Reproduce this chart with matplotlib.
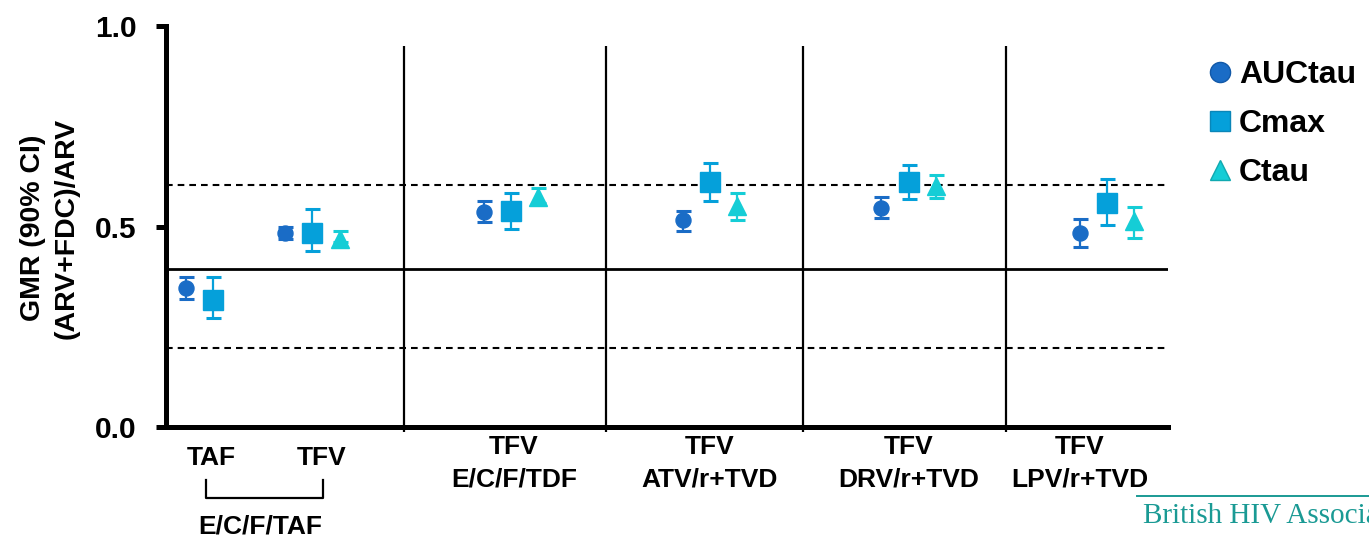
import numpy as np
import matplotlib
matplotlib.use("Agg")
import matplotlib.pyplot as plt
from matplotlib.lines import Line2D

plt.rcParams['font.family'] = ['Liberation Sans', 'DejaVu Sans']
plt.rcParams['font.weight'] = 'bold'

# group positions (TAF and TFV of E/C/F/TAF sit close together)
group_x = [0.0, 0.5, 1.5, 2.5, 3.5, 4.5]
label_x = [-0.007, 0.544, 1.515, 2.50, 3.50, 4.363]
group_labels = ["TAF", "TFV", "TFV\nE/C/F/TDF", "TFV\nATV/r+TVD",
                "TFV\nDRV/r+TVD", "TFV\nLPV/r+TVD"]
separators = [0.96, 1.98, 2.97, 3.99]

# geometric mean ratios with 90% CI
auc = [0.346, 0.483, 0.537, 0.516, 0.547, 0.483]
auc_lo = [0.319, 0.468, 0.510, 0.490, 0.520, 0.448]
auc_hi = [0.373, 0.498, 0.564, 0.539, 0.574, 0.519]

cmax = [0.317, 0.485, 0.539, 0.612, 0.612, 0.559]
cmax_lo = [0.271, 0.439, 0.493, 0.564, 0.568, 0.504]
cmax_hi = [0.375, 0.543, 0.583, 0.659, 0.653, 0.618]

ctau = [np.nan, 0.470, 0.573, 0.550, 0.601, 0.513]
ctau_lo = [np.nan, 0.462, 0.558, 0.516, 0.572, 0.471]
ctau_hi = [np.nan, 0.490, 0.595, 0.583, 0.628, 0.548]

ref_level = 0.395
bounds = [0.198, 0.603]

series = [
    ("AUCtau", auc, auc_lo, auc_hi, 'o', 10.8, -0.137, '#1a6cc6', '#1259a8'),
    ("Cmax", cmax, cmax_lo, cmax_hi, 's', 14.0, 0.0, '#05a0da', '#0a86b8'),
    ("Ctau", ctau, ctau_lo, ctau_hi, '^', 13.0, 0.137, '#15cdd6', '#10a9b0'),
]

fig = plt.figure(figsize=(13.69, 5.36), dpi=100)
ax = fig.add_axes([166 / 1369, 109 / 536, 1002 / 1369, 401 / 536])

ax.axhline(ref_level, color='black', lw=2.0, zorder=1)
for b in bounds:
    ax.axhline(b, color='black', lw=1.5, linestyle=(0, (3.2, 2.4)), zorder=1)
ax.vlines(separators, -0.012, 0.95, color='black', lw=1.6, clip_on=False, zorder=1)

handles = []
for name, vals, lo, hi, mk, ms, off, col, edge in series:
    vals = np.array(vals)
    err = [vals - np.array(lo), np.array(hi) - vals]
    xs = np.array(group_x) + off
    ax.errorbar(xs, vals, yerr=err, fmt=mk, ms=ms, color=col, mec=col,
                ecolor=col, elinewidth=1.6, capsize=5.4, capthick=2.2, zorder=3)
    handles.append(Line2D([], [], marker=mk, ls='', ms=14.5, mfc=col,
                          mec=edge, mew=1.0, label=name))

ax.set_xlim(-0.237, 4.806)
ax.set_ylim(0, 1.0)
ax.set_yticks([0.0, 0.5, 1.0])
ax.set_yticklabels(['0.0', '0.5', '1.0'], fontsize=21.5, fontweight='bold')
ax.set_xticks([])
ax.tick_params(axis='y', length=7.2, width=3.6, pad=13.7)
for s in ['top', 'right']:
    ax.spines[s].set_visible(False)
for s in ['left', 'bottom']:
    ax.spines[s].set_linewidth(3.6)

# category labels under the axis
for lx, lab in zip(label_x, group_labels):
    ypos = -0.090 if '\n' in lab else -0.078
    ax.text(lx, ypos, lab, ha='center', va='center', fontsize=19,
            fontweight='bold', linespacing=1.45, clip_on=False)

# bracket joining the two E/C/F/TAF analytes
ax.plot([-0.035, -0.035, 0.554, 0.554], [-0.132, -0.177, -0.177, -0.132],
        color='black', lw=1.6, clip_on=False)
ax.text(0.237, -0.265, "E/C/F/TAF", ha='center', va='baseline', fontsize=19,
        fontweight='bold', clip_on=False)

fig.text(50 / 1369, 1 - 228 / 536, "GMR (90% CI)\n(ARV+FDC)/ARV", rotation=90,
         ha='center', va='center', multialignment='center', fontsize=20.5,
         fontweight='bold', linespacing=1.4)

fig.legend(handles=handles, loc='upper left',
           bbox_to_anchor=(1204 / 1369, 1 - 60 / 536), frameon=False,
           handlelength=1.0, handletextpad=0.1,
           labelspacing=0.6, borderpad=0, borderaxespad=0,
           prop={'weight': 'bold', 'size': 23})

# society logo in the corner
fig.add_artist(Line2D([1137 / 1369, 1.0], [1 - 496 / 536, 1 - 496 / 536],
                      color='#1a9a94', lw=1.4))
fig.text(1143 / 1369, 1 - 523 / 536, "British HIV Association", fontsize=21,
         family='Liberation Serif', fontweight='normal', color='#1a9a94',
         ha='left', va='baseline')

fig.savefig("out.png", dpi=100)
